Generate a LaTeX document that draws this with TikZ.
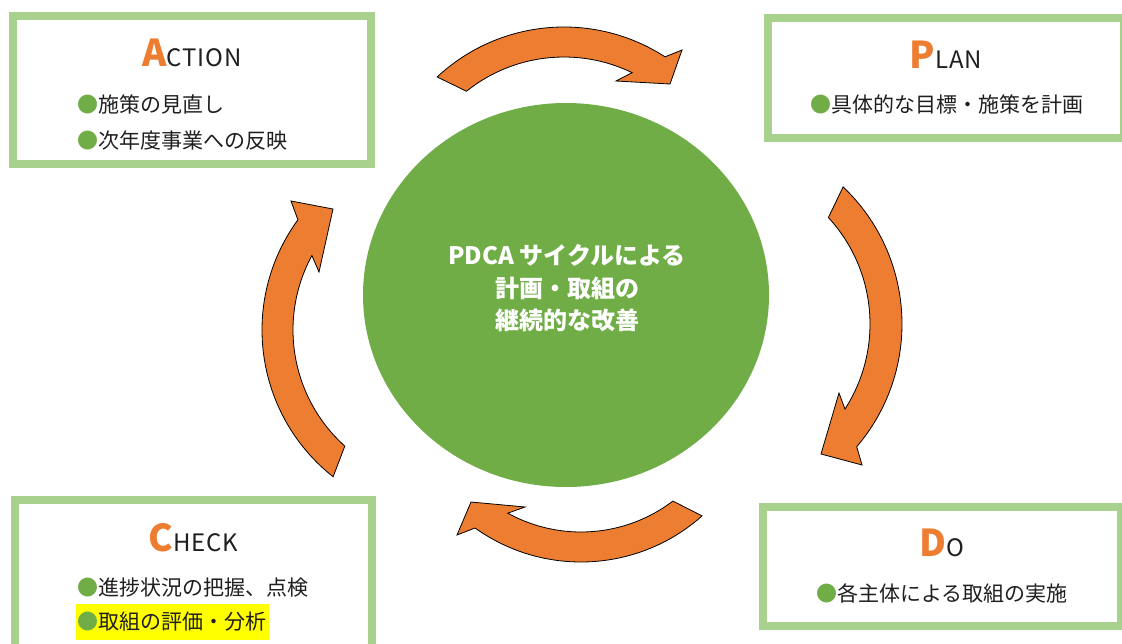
\documentclass[tikz,border=0pt]{standalone}
\usepackage{fontspec}
\setmainfont{Noto Sans CJK JP}
\newfontfamily\restfam{Noto Sans CJK JP}[LetterSpace=4]
\usetikzlibrary{calc,shapes.geometric}
\definecolor{aorange}{HTML}{ED7D31}
\definecolor{cgreen}{HTML}{70AD47}
\definecolor{bgreen}{HTML}{A9D18E}
\definecolor{dtext}{HTML}{1F1F1F}
\definecolor{hlyellow}{HTML}{FFFF00}
\newcommand\pbig[1]{{\fontsize{37pt}{40pt}\selectfont\bfseries\color{aorange}#1}}
\newcommand\prest[1]{{\restfam\fontsize{24pt}{28pt}\selectfont\color{dtext}#1}}
\newcommand\gbul{{\color{cgreen}●}}
\tikzset{
  phasebox/.style={draw=bgreen, line width=8pt, fill=white, rectangle, inner sep=0pt},
  arrowshape/.style={fill=aorange, draw=black, line width=0.8pt, line join=miter},
  titletext/.style={anchor=base, inner sep=0pt},
  itemtext/.style={anchor=base west, inner sep=0pt, text=dtext, font=\fontsize{21pt}{25pt}\selectfont},
  coretext/.style={anchor=base, inner sep=0pt, text=white, font=\fontsize{24pt}{28pt}\selectfont\bfseries}
}
\begin{document}
\begin{tikzpicture}[x=1pt,y=-1pt]
\path[use as bounding box, clip] (0,0) rectangle (1122,643);
\fill[white] (0,0) rectangle (1122,643);
% boxes
\node[phasebox, minimum width=358pt, minimum height=148pt] (actbox) at (192,90) {};
\node[phasebox, minimum width=356pt, minimum height=120pt] (planbox) at (946,78) {};
\node[phasebox, minimum width=358pt, minimum height=119pt] (dobox) at (942,566.5) {};
\node[phasebox, minimum width=357pt, minimum height=150pt] (checkbox) at (193.5,575) {};
% titles
\node[titletext] (acttitle) at (192,66) {\pbig{A}\prest{CTION}};
\node[titletext] (plantitle) at (946,68) {\pbig{P}\prest{LAN}};
\node[titletext] (dotitle) at (942,556) {\pbig{D}\prest{O}};
\node[titletext] (checktitle) at (193.5,551) {\pbig{C}\prest{HECK}};
% items
\node[itemtext] (act1) at (77,112) {\gbul 施策の見直し};
\node[itemtext] (act2) at (77,148) {\gbul 次年度事業への反映};
\node[itemtext] (plan1) at (810,112) {\gbul 具体的な目標・施策を計画};
\node[itemtext] (do1) at (816,601) {\gbul 各主体による取組の実施};
\node[itemtext] (check1) at (77,595) {\gbul 進捗状況の把握、点検};
\fill[hlyellow] (76,604) rectangle (269,640);
\node[itemtext] (check2) at (77,629) {\gbul 取組の評価・分析};
% core
\node[ellipse, fill=cgreen, inner sep=0pt, minimum width=406pt, minimum height=384pt] (core) at (566,295) {};
\node[coretext] (core1) at (567,264) {PDCA サイクルによる};
\node[coretext] (core2) at (567,297) {計画・取組の};
\node[coretext] (core3) at (567,329) {継続的な改善};
% arrows
\coordinate (Tc) at (564,213);
\coordinate (Rc) at (713,324);
\coordinate (Bc) at (581,380);
\coordinate (Lc) at (449,330);
\coordinate (Tb1) at (682,50); \coordinate (Tt) at (670,84); \coordinate (Tb2) at (616,81);
\coordinate (Rb1) at (862,465); \coordinate (Rt) at (821,454); \coordinate (Rb2) at (839,393);
\coordinate (Bb1) at (457,535); \coordinate (Bt) at (471,502); \coordinate (Bb2) at (525,507);
\coordinate (Lb1) at (291,201); \coordinate (Lt) at (333,209); \coordinate (Lb2) at (319,272);
\draw[arrowshape] ($(Tc)+(133:186pt)$) arc[start angle=133,end angle=57.1,radius=186pt]
  -- (Tb1) -- (Tt) -- (Tb2) -- ($(Tc)+(64.1:156pt)$) arc[start angle=64.1,end angle=128.7,radius=156pt] -- cycle;
\draw[arrowshape] ($(Rc)+(46.5:189pt)$) arc[start angle=46.5,end angle=-40.5,radius=189pt]
  -- (Rb1) -- (Rt) -- (Rb2) -- ($(Rc)+(-32.8:157pt)$) arc[start angle=-32.8,end angle=42.7,radius=157pt] -- cycle;
\draw[arrowshape] ($(Bc)+(-48.3:182pt)$) arc[start angle=-48.3,end angle=-125.6,radius=182pt]
  -- (Bb1) -- (Bt) -- (Bb2) -- ($(Bc)+(-118.8:152pt)$) arc[start angle=-118.8,end angle=-52.8,radius=152pt] -- cycle;
\draw[arrowshape] ($(Lc)+(231.7:187pt)$) arc[start angle=231.7,end angle=143.9,radius=187pt]
  -- (Lb1) -- (Lt) -- (Lb2) -- ($(Lc)+(151.5:156pt)$) arc[start angle=151.5,end angle=228.1,radius=156pt] -- cycle;
\end{tikzpicture}
\end{document}
